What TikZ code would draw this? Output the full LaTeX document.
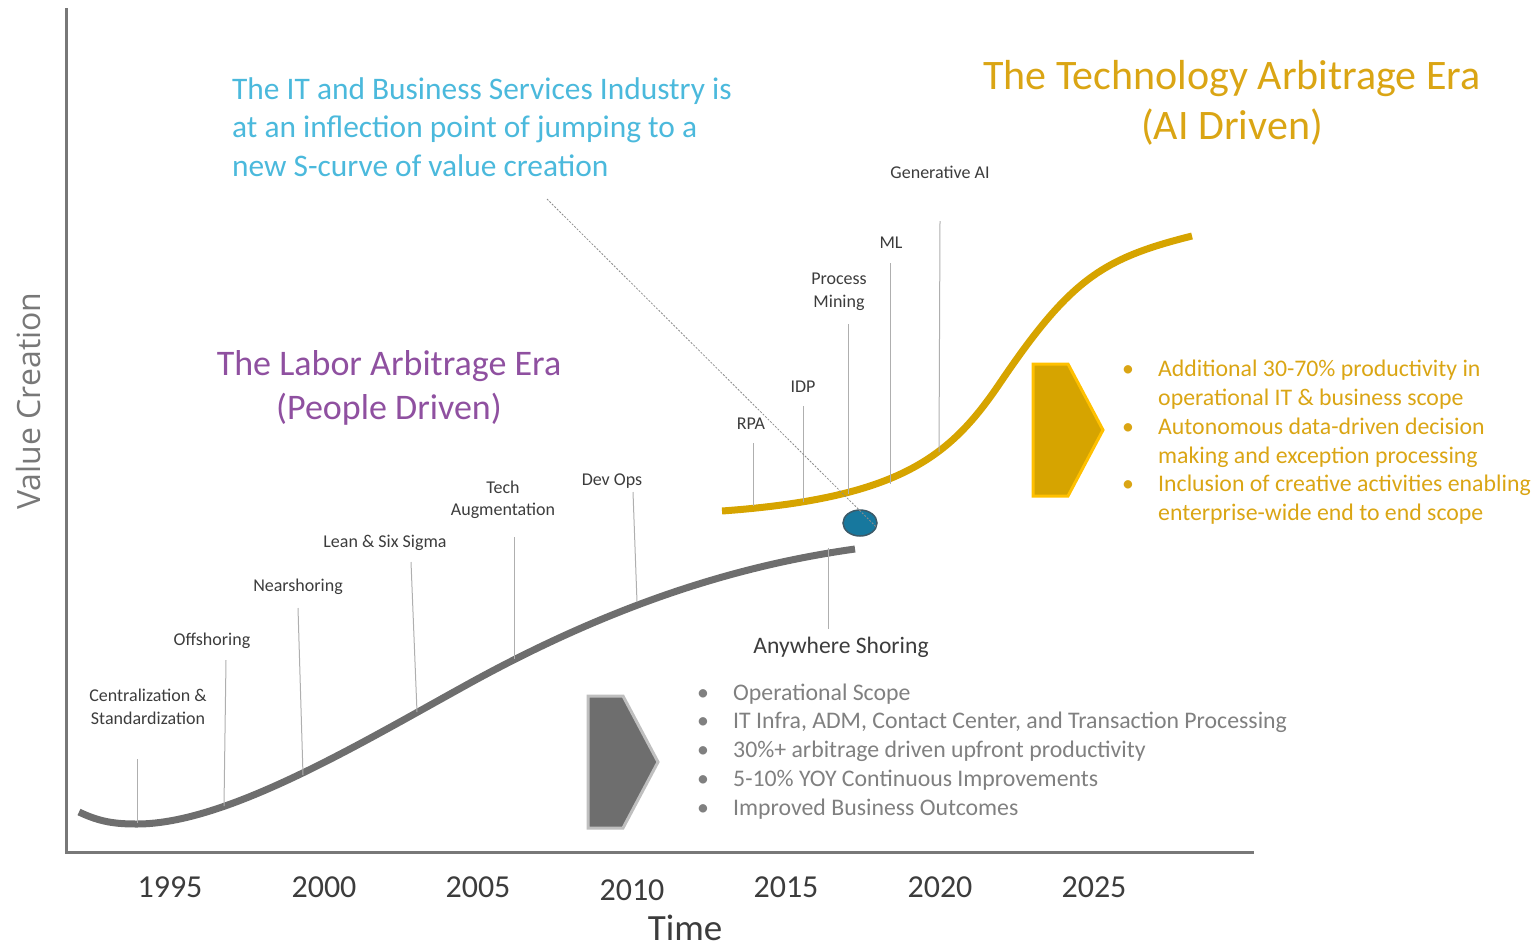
\documentclass[tikz,border=0pt]{standalone}
\usepackage{fontspec}
\setmainfont{Carlito}
\newfontfamily\axisfont{Open Sans}
\usetikzlibrary{shapes.geometric}

\definecolor{laborgray}{RGB}{110,110,110}
\definecolor{techgold}{RGB}{214,164,0}
\definecolor{goldtext}{RGB}{218,165,20}
\definecolor{goldedge}{RGB}{255,192,0}
\definecolor{notecyan}{RGB}{75,185,220}
\definecolor{eraviolet}{RGB}{143,80,160}
\definecolor{labelgray}{RGB}{60,60,60}
\definecolor{stemgray}{RGB}{175,175,175}
\definecolor{axisgray}{RGB}{120,120,120}
\definecolor{listgray}{RGB}{128,128,128}
\definecolor{blipblue}{RGB}{23,120,158}
\definecolor{blipedge}{RGB}{60,90,105}

\begin{document}
\begin{tikzpicture}[x=1pt,y=-1pt,
    milestone/.style={text=labelgray, font=\fontsize{18}{22.5}\selectfont, align=center, inner sep=0},
    stemline/.style={draw=stemgray, line width=1},
    yearlabel/.style={text=labelgray, font=\fontsize{32}{36}\selectfont, inner sep=0},
    bulletlist/.style={anchor=west, inner sep=0, font=\fontsize{23.8}{28.8}\selectfont}]
  \useasboundingbox (0,0) rectangle (1534,951);

  % Axes
  \draw[axisgray, line width=3] (66,8) -- (66,852) -- (1254,852);
  \node[text=axisgray, font=\axisfont\fontsize{32}{36}\selectfont, rotate=90, inner sep=0] (vlabel) at (28,401) {Value Creation};
  \node[yearlabel, font=\fontsize{37}{42}\selectfont] (tlabel) at (685,928) {Time};
  \foreach \yr/\xx/\yy in {1995/170/887, 2000/324/887, 2005/478/887, 2010/632/890,
      2015/786/887, 2020/940/887, 2025/1094/887}
    \node[yearlabel] (year\yr) at (\xx,\yy) {\yr};

  % S-curves
  \draw[laborgray, line width=7] (79,812) .. controls (100,822) and (115,824) .. (137,824)
    .. controls (227,824) and (360,743.5) .. (470,683)
    .. controls (620,600.5) and (745,564.4) .. (855,549);
  \draw[techgold, line width=7] (722,511) .. controls (900,498) and (950,457) .. (1000,383)
    .. controls (1070,279.7) and (1102,258.5) .. (1192,236);

  % Milestones with their stems
  \foreach \nm/\txt/\lx/\ly/\tx/\ty/\bx/\by in {
      cent/{Centralization \&\\Standardization}/148/707/137/759/137/823,
      offs/Offshoring/212/641/226/660/224/806,
      nears/Nearshoring/298/587/298/608/303/775,
      lean/{Lean \& Six Sigma}/385/543/411/562/417/712,
      tech/{Tech\\Augmentation}/503/500/514/537/514/659,
      devops/{Dev Ops}/612/481/633/492/637/602,
      rpa/RPA/751/424/753/443/753/506,
      idp/IDP/803/387/803/406/803/502,
      mining/{Process\\Mining}/839/292/848/324/848/494,
      ml/ML/891/243/890/263/890/484,
      genai/{Generative AI}/940/172/940/221/939/452}
  {
    \node[milestone] (\nm) at (\lx,\ly) {\txt};
    \coordinate (\nm top) at (\tx,\ty);
    \coordinate (\nm foot) at (\bx,\by);
    \draw[stemline] (\nm top) -- (\nm foot);
  }
  \coordinate (shoretop) at (828,548);
  \coordinate (shorefoot) at (828,629);
  \draw[stemline] (shoretop) -- (shorefoot);
  \node[milestone, font=\fontsize{23.6}{26}\selectfont] (shore) at (841,647) {Anywhere Shoring};

  % Era titles
  \node[text=eraviolet, font=\fontsize{36}{44}\selectfont, align=center] (laborera) at (389,388)
    {The Labor Arbitrage Era\\(People Driven)};
  \node[text=goldtext, font=\fontsize{42}{50}\selectfont, align=center] (techera) at (1232,103)
    {The Technology Arbitrage Era\\(AI Driven)};

  % Inflection note
  \node[text=notecyan, font=\fontsize{31.4}{38.5}\selectfont, align=left, anchor=west, inner sep=0] (note) at (232,127)
    {The IT and Business Services Industry is\\at an inflection point of jumping to a\\new S-curve of value creation};
  \node[ellipse, fill=blipblue, draw=blipedge, line width=1.5, minimum width=34, minimum height=26, inner sep=0] (blip) at (860,523) {};
  \coordinate (notetail) at (547,199);
  \draw[stemgray!80!black, line width=0.8, dashed, dash pattern=on 2pt off 1.5pt] (notetail) -- (blip.-15);

  % Chevrons
  \draw[fill=laborgray, draw=stemgray!80, line width=3] (588,696) -- (623,696) -- (658,762) -- (623,828) -- (588,828) -- cycle;
  \draw[fill=techgold, draw=goldedge, line width=3] (1033,364) -- (1068,364) -- (1103,430) -- (1068,496) -- (1033,496) -- cycle;

  % Bullet lists
  \node[bulletlist, text=listgray] (laborlist) at (697,752) {\begin{tabular}{@{}p{36pt}@{}l@{}}
    \textbullet & Operational Scope\\
    \textbullet & IT Infra, ADM, Contact Center, and Transaction Processing\\
    \textbullet & 30\%+ arbitrage driven upfront productivity\\
    \textbullet & 5-10\% YOY Continuous Improvements\\
    \textbullet & Improved Business Outcomes
  \end{tabular}};
  \node[bulletlist, text=goldtext] (techlist) at (1122,443) {\begin{tabular}{@{}p{36pt}@{}l@{}}
    \textbullet & Additional 30-70\% productivity in\\
                & operational IT \& business scope\\
    \textbullet & Autonomous data-driven decision\\
                & making and exception processing\\
    \textbullet & Inclusion of creative activities enabling\\
                & enterprise-wide end to end scope
  \end{tabular}};
\end{tikzpicture}
\end{document}
